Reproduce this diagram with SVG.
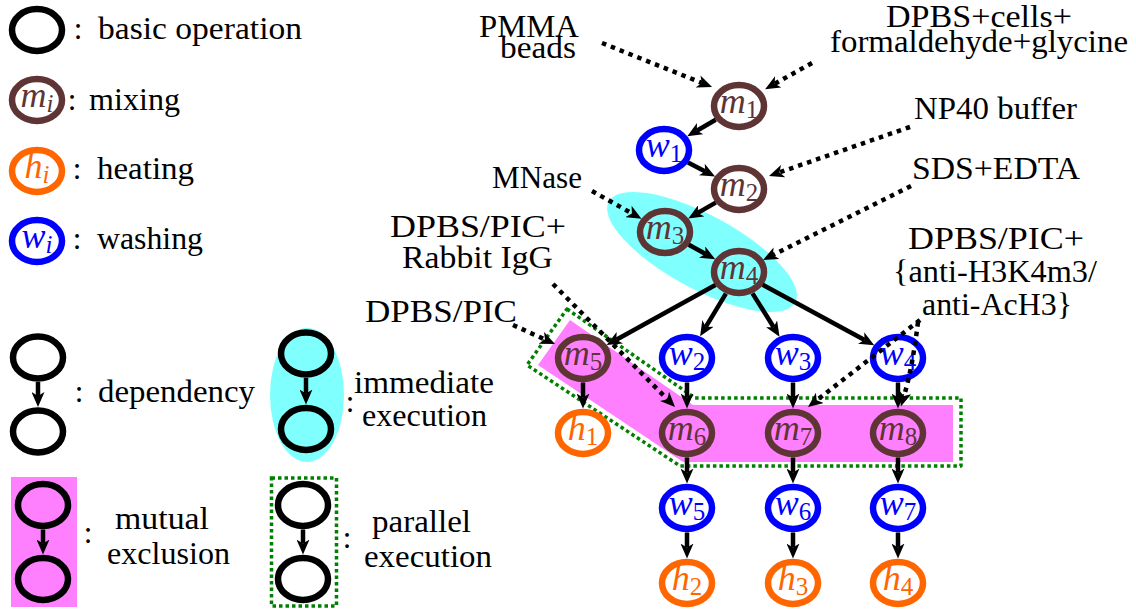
<svg xmlns="http://www.w3.org/2000/svg" width="1136" height="611" viewBox="0 0 1136 611">
  <style>
    text { font-family: "Liberation Serif", "Times New Roman", serif; }
    .t { font-size: 31px; fill: #000; }
    .c { font-size: 31px; fill: #000; text-anchor: middle; }
    .lbl { font-size: 36px; font-style: italic; text-anchor: middle; }
    .sub { font-size: 25px; font-style: normal; }
    .subi { font-size: 25px; }
    ellipse.n { fill: none; stroke-width: 6.5; }
    .mix ellipse.n { stroke: #5e3434; }
    .mix text { fill: #5e3434; }
    .wash ellipse.n { stroke: #0000ff; }
    .wash text { fill: #0000ff; }
    .heat ellipse.n { stroke: #ff6600; }
    .heat text { fill: #ff6600; }
    .basic ellipse.n { stroke: #000; }
    .e { fill: none; stroke: #000; stroke-width: 4.5; marker-end: url(#ah); }
    .d { fill: none; stroke: #000; stroke-width: 4.5; stroke-dasharray: 4.5 5; marker-end: url(#ah); }
    .imm { fill: #80ffff; }
    .mut { fill: #ff80ff; }
    .par { fill: none; stroke: #008000; stroke-width: 3.5; stroke-dasharray: 3.5 3; }
  </style>
  <defs>
    <marker id="ah" markerUnits="userSpaceOnUse" viewBox="0 0 15 13" markerWidth="15" markerHeight="13" refX="4" refY="6.5" orient="auto">
      <path d="M0,0 L15,6.5 L0,13 L4,6.5 z" fill="#000"/>
    </marker>
  </defs>

  <rect width="1136" height="611" fill="#fff"/>

  <!-- legend -->
  <g id="legend">
    <g id="legend-basic" class="basic">
      <ellipse class="n" cx="37" cy="30" rx="25" ry="21"/>
      <text class="c" x="78" y="39">:</text>
      <text class="t" x="98" y="39" textLength="204" lengthAdjust="spacingAndGlyphs">basic operation</text>
    </g>
    <g id="legend-mixing" class="mix">
      <ellipse class="n" cx="37" cy="100" rx="25" ry="21"/>
      <text class="lbl" x="37" y="107">m<tspan class="subi" dy="5">i</tspan></text>
    </g>
    <text class="c" x="72" y="110">:</text>
    <text class="t" x="89" y="110" textLength="91" lengthAdjust="spacingAndGlyphs">mixing</text>
    <g id="legend-heating" class="heat">
      <ellipse class="n" cx="37" cy="171" rx="25" ry="21"/>
      <text class="lbl" x="37" y="178">h<tspan class="subi" dy="5">i</tspan></text>
    </g>
    <text class="c" x="77" y="179">:</text>
    <text class="t" x="97" y="179" textLength="97" lengthAdjust="spacingAndGlyphs">heating</text>
    <g id="legend-washing" class="wash">
      <ellipse class="n" cx="37" cy="241" rx="25" ry="21"/>
      <text class="lbl" x="37" y="248">w<tspan class="subi" dy="5">i</tspan></text>
    </g>
    <text class="c" x="77" y="249">:</text>
    <text class="t" x="97" y="249" textLength="106" lengthAdjust="spacingAndGlyphs">washing</text>

    <g id="legend-dependency" class="basic">
      <ellipse class="n" cx="38" cy="357.5" rx="25" ry="21"/>
      <ellipse class="n" cx="38" cy="431.5" rx="25" ry="21"/>
      <path class="e" d="M38,382 V396"/>
      <text class="c" x="79" y="402">:</text>
      <text class="t" x="98" y="402" textLength="157" lengthAdjust="spacingAndGlyphs">dependency</text>
    </g>

    <g id="legend-immediate" class="basic">
      <ellipse class="imm" cx="307" cy="395" rx="37" ry="67"/>
      <ellipse class="n" cx="306" cy="353.5" rx="25" ry="21"/>
      <ellipse class="n" cx="306" cy="429" rx="25" ry="21"/>
      <path class="e" d="M306,378 V393.5"/>
      <text class="c" x="350" y="412">:</text>
      <text class="t" x="354" y="393" textLength="140" lengthAdjust="spacingAndGlyphs">immediate</text>
      <text class="t" x="362" y="426" textLength="125" lengthAdjust="spacingAndGlyphs">execution</text>
    </g>

    <g id="legend-mutual" class="basic">
      <rect class="mut" x="11" y="477" width="66" height="130"/>
      <ellipse class="n" cx="43" cy="505" rx="25" ry="21"/>
      <ellipse class="n" cx="43" cy="579" rx="25" ry="21"/>
      <path class="e" d="M43,529.5 V543.5"/>
      <text class="c" x="88" y="543">:</text>
      <text class="t" x="115" y="529" textLength="94" lengthAdjust="spacingAndGlyphs">mutual</text>
      <text class="t" x="107" y="564" textLength="123" lengthAdjust="spacingAndGlyphs">exclusion</text>
    </g>

    <g id="legend-parallel" class="basic">
      <rect class="par" x="271.5" y="478" width="65" height="128"/>
      <ellipse class="n" cx="303" cy="505" rx="25" ry="21"/>
      <ellipse class="n" cx="303" cy="579" rx="25" ry="21"/>
      <path class="e" d="M303,529.5 V543.5"/>
      <text class="c" x="347" y="548">:</text>
      <text class="t" x="372" y="532" textLength="99" lengthAdjust="spacingAndGlyphs">parallel</text>
      <text class="t" x="364" y="567" textLength="128" lengthAdjust="spacingAndGlyphs">execution</text>
    </g>
  </g>

  <!-- grouping regions behind the operations -->
  <g id="regions">
    <ellipse id="immediate-m3-m4" class="imm" cx="702" cy="252" rx="106" ry="37" transform="rotate(28.4 702 252)"/>
    <polygon id="mutex-m5-m8" class="mut" points="570,320 693,405 953,405 953,462 683,462 538,365"/>
    <polygon id="parallel-m5-m8" class="par" stroke-linejoin="round" points="567,309 695,398 961,398 961,466 680,466 527,365"/>
  </g>

  <!-- operations -->
  <g id="m1" class="mix"><ellipse class="n" cx="739" cy="106" rx="25" ry="21"/><text class="lbl" x="739" y="113">m<tspan class="sub" dy="5">1</tspan></text></g>
  <g id="w1" class="wash"><ellipse class="n" cx="664" cy="150" rx="25" ry="21"/><text class="lbl" x="664" y="157">w<tspan class="sub" dy="5">1</tspan></text></g>
  <g id="m2" class="mix"><ellipse class="n" cx="739" cy="189" rx="25" ry="21"/><text class="lbl" x="739" y="196">m<tspan class="sub" dy="5">2</tspan></text></g>
  <g id="m3" class="mix"><ellipse class="n" cx="665" cy="232" rx="25" ry="21"/><text class="lbl" x="665" y="239">m<tspan class="sub" dy="5">3</tspan></text></g>
  <g id="m4" class="mix"><ellipse class="n" cx="739" cy="272" rx="25" ry="21"/><text class="lbl" x="739" y="279">m<tspan class="sub" dy="5">4</tspan></text></g>
  <g id="m5" class="mix"><ellipse class="n" cx="583" cy="358" rx="25" ry="21"/><text class="lbl" x="583" y="365">m<tspan class="sub" dy="5">5</tspan></text></g>
  <g id="w2" class="wash"><ellipse class="n" cx="687" cy="358" rx="25" ry="21"/><text class="lbl" x="687" y="365">w<tspan class="sub" dy="5">2</tspan></text></g>
  <g id="w3" class="wash"><ellipse class="n" cx="793" cy="358" rx="25" ry="21"/><text class="lbl" x="793" y="365">w<tspan class="sub" dy="5">3</tspan></text></g>
  <g id="w4" class="wash"><ellipse class="n" cx="898" cy="358" rx="25" ry="21"/><text class="lbl" x="898" y="365">w<tspan class="sub" dy="5">4</tspan></text></g>
  <g id="h1" class="heat"><ellipse class="n" cx="583" cy="433" rx="25" ry="21"/><text class="lbl" x="583" y="440">h<tspan class="sub" dy="5">1</tspan></text></g>
  <g id="m6" class="mix"><ellipse class="n" cx="687" cy="433" rx="25" ry="21"/><text class="lbl" x="687" y="440">m<tspan class="sub" dy="5">6</tspan></text></g>
  <g id="m7" class="mix"><ellipse class="n" cx="793" cy="433" rx="25" ry="21"/><text class="lbl" x="793" y="440">m<tspan class="sub" dy="5">7</tspan></text></g>
  <g id="m8" class="mix"><ellipse class="n" cx="898" cy="433" rx="25" ry="21"/><text class="lbl" x="898" y="440">m<tspan class="sub" dy="5">8</tspan></text></g>
  <g id="w5" class="wash"><ellipse class="n" cx="687" cy="508" rx="25" ry="21"/><text class="lbl" x="687" y="515">w<tspan class="sub" dy="5">5</tspan></text></g>
  <g id="w6" class="wash"><ellipse class="n" cx="793" cy="508" rx="25" ry="21"/><text class="lbl" x="793" y="515">w<tspan class="sub" dy="5">6</tspan></text></g>
  <g id="w7" class="wash"><ellipse class="n" cx="898" cy="508" rx="25" ry="21"/><text class="lbl" x="898" y="515">w<tspan class="sub" dy="5">7</tspan></text></g>
  <g id="h2" class="heat"><ellipse class="n" cx="687" cy="583" rx="25" ry="21"/><text class="lbl" x="687" y="590">h<tspan class="sub" dy="5">2</tspan></text></g>
  <g id="h3" class="heat"><ellipse class="n" cx="793" cy="583" rx="25" ry="21"/><text class="lbl" x="793" y="590">h<tspan class="sub" dy="5">3</tspan></text></g>
  <g id="h4" class="heat"><ellipse class="n" cx="898" cy="583" rx="25" ry="21"/><text class="lbl" x="898" y="590">h<tspan class="sub" dy="5">4</tspan></text></g>

  <!-- dependencies and reagent inputs -->
  <g id="connectors">
    <path class="e" d="M715.7,119.7 L696.8,130.7"/>
    <path class="e" d="M688,162.5 L705.3,171.4"/>
    <path class="e" d="M715.7,202.6 L697.8,212.9"/>
    <path class="e" d="M688.8,244.8 L705.6,254"/>
    <path class="e" d="M715.4,285 L616.3,339.7"/>
    <path class="e" d="M725.9,293.6 L705.8,326.9"/>
    <path class="e" d="M752.5,293.4 L773.7,327.3"/>
    <path class="e" d="M762.7,284.8 L864.6,339.9"/>
    <path class="e" d="M583,382.5 V397.5"/>
    <path class="e" d="M687,382.5 V397.5"/>
    <path class="e" d="M793,382.5 V397.5"/>
    <path class="e" d="M898,382.5 V397.5"/>
    <path class="e" d="M687,457.5 V472.5"/>
    <path class="e" d="M793,457.5 V472.5"/>
    <path class="e" d="M898,457.5 V472.5"/>
    <path class="e" d="M687,532.5 V547.5"/>
    <path class="e" d="M793,532.5 V547.5"/>
    <path class="e" d="M898,532.5 V547.5"/>

    <path class="d" d="M602,43 L701.8,82.9"/>
    <path class="d" d="M812,63 L774.7,83.8"/>
    <path class="d" d="M910,127 L779.4,172.4"/>
    <path class="d" d="M911,186 L772.9,255"/>
    <path class="d" d="M592,191 L631.9,213.4"/>
    <path class="d" d="M553,284 L667.3,399.2"/>
    <path class="d" d="M513,325 L545,339.5"/>
    <path class="d" d="M920,320 L816.7,400.3"/>
    <path class="d" d="M918,322 Q912.5,367.6 904,396"/>
  </g>

  <!-- reagent labels -->
  <g id="reagents">
    <text class="t" x="479" y="37" textLength="100" lengthAdjust="spacingAndGlyphs">PMMA</text>
    <text class="t" x="500" y="58" textLength="76" lengthAdjust="spacingAndGlyphs">beads</text>
    <text class="t" x="886" y="27" font-size="30" textLength="186" lengthAdjust="spacingAndGlyphs">DPBS+cells+</text>
    <text class="t" x="830" y="52" textLength="298" lengthAdjust="spacingAndGlyphs">formaldehyde+glycine</text>
    <text class="t" x="914" y="119" textLength="163" lengthAdjust="spacingAndGlyphs">NP40 buffer</text>
    <text class="t" x="912" y="179" textLength="168" lengthAdjust="spacingAndGlyphs">SDS+EDTA</text>
    <text class="t" x="492" y="188" textLength="90" lengthAdjust="spacingAndGlyphs">MNase</text>
    <text class="t" x="390" y="237" textLength="176" lengthAdjust="spacingAndGlyphs">DPBS/PIC+</text>
    <text class="t" x="402" y="268" textLength="151" lengthAdjust="spacingAndGlyphs">Rabbit IgG</text>
    <text class="t" x="365" y="322" textLength="152" lengthAdjust="spacingAndGlyphs">DPBS/PIC</text>
    <text class="t" x="908" y="249" textLength="176" lengthAdjust="spacingAndGlyphs">DPBS/PIC+</text>
    <text class="t" x="893" y="282" textLength="204" lengthAdjust="spacingAndGlyphs">{anti-H3K4m3/</text>
    <text class="t" x="922" y="315" textLength="150" lengthAdjust="spacingAndGlyphs">anti-AcH3}</text>
  </g>
</svg>
